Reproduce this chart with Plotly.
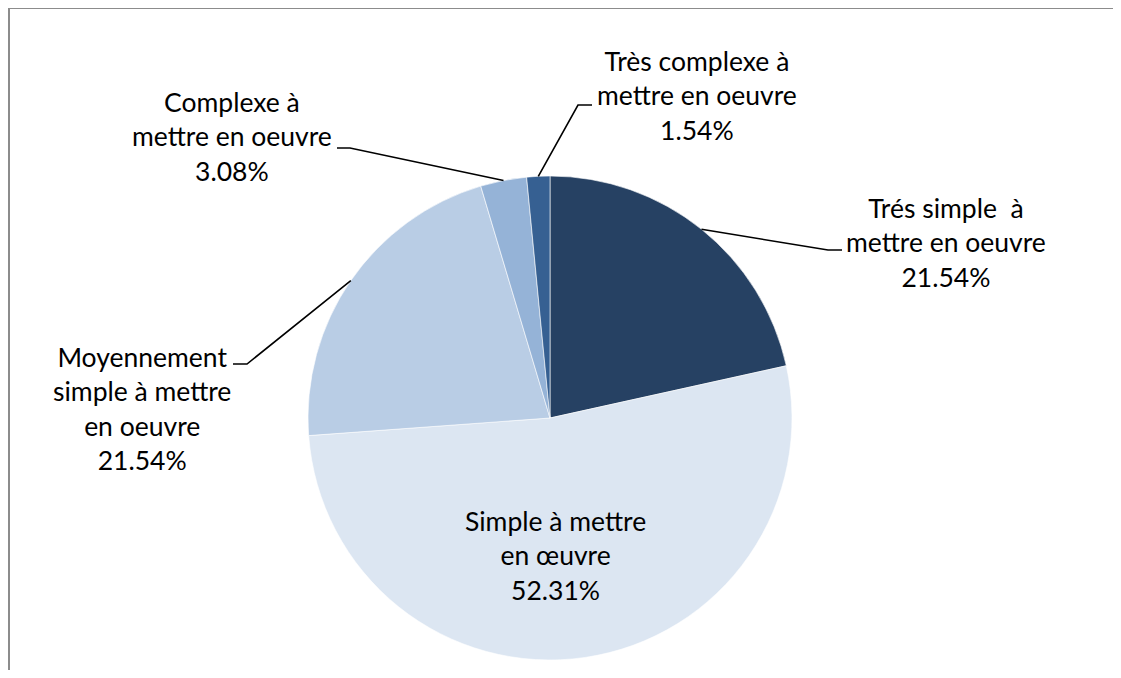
import math
import plotly.graph_objects as go

categories = [
    "Trés simple à mettre en oeuvre",
    "Simple à mettre en œuvre",
    "Moyennement simple à mettre en oeuvre",
    "Complexe à mettre en oeuvre",
    "Très complexe à mettre en oeuvre",
]
values = [21.54, 52.31, 21.54, 3.08, 1.54]
label_texts = [
    "Trés simple  à<br>mettre en oeuvre<br>21.54%",
    "Simple à mettre<br>en œuvre<br>52.31%",
    "Moyennement<br>simple à mettre<br>en oeuvre<br>21.54%",
    "Complexe à<br>mettre en oeuvre<br>3.08%",
    "Très complexe à<br>mettre en oeuvre<br>1.54%",
]
colors = ["#264163", "#DCE6F2", "#B9CDE5", "#95B3D7", "#366092"]

PAGE_W, PAGE_H = 1121, 678
OFF = 8  # default page body margin
W, H = PAGE_W - 2 * OFF, PAGE_H - 2 * OFF  # avoid scrollbars
cx, cy, R = 550, 418, 242  # page pixels

# label centre positions (page pixels) and leader elbows
label_pos = [(946, 242), (555, 555), (142, 408), (232, 136), (697, 95)]
elbows = [[(828, 250), (842, 250)], None, [(247, 364), (233, 364)],
          [(350, 148), (337, 148)], [(578, 105), (592, 105)]]

fig = go.Figure()
fx0 = cx - OFF
fy0 = cy - OFF
fig.add_trace(go.Pie(
    labels=categories, values=values, sort=False, direction="clockwise",
    rotation=0, textinfo="none", hoverinfo="label+percent",
    marker=dict(colors=colors, line=dict(color="#FFFFFF", width=0.6)),
    domain=dict(x=[(fx0 - R) / W, (fx0 + R) / W], y=[(H - fy0 - R) / H, (H - fy0 + R) / H]),
    showlegend=False,
))

fig.add_trace(go.Scatter(x=[OFF, OFF + W], y=[OFF, OFF + H], mode="markers", marker=dict(opacity=0),
                         hoverinfo="skip", showlegend=False))

total = sum(values)
cum = 0
shapes = []
for i, v in enumerate(values):
    mid = (cum + v / 2) / total
    cum += v
    ang = 2 * math.pi * mid
    sx = cx + R * math.sin(ang)
    sy = cy - R * math.cos(ang)
    if elbows[i] is not None:
        pts = [(sx, sy)] + elbows[i]
        path = "M " + " L ".join(f"{x:.1f},{y:.1f}" for x, y in pts)
        shapes.append(dict(type="path", path=path, xref="x", yref="y",
                           line=dict(color="#000000", width=1.6)))
    fig.add_annotation(x=label_pos[i][0], y=label_pos[i][1], xref="x", yref="y",
                       text=label_texts[i], showarrow=False, align="center",
                       font=dict(family="Lato, Carlito, Calibri, sans-serif", size=26.5, color="#000000"))

# chart frame: only the top and left edges fall inside the picture
frame = dict(color="#8C8C8C", width=2)
shapes.append(dict(type="line", xref="x", yref="y", x0=8, y0=8, x1=OFF + W, y1=8, line=frame, layer="below"))
shapes.append(dict(type="line", xref="x", yref="y", x0=9, y0=8, x1=9, y1=OFF + H, line=frame, layer="below"))

fig.update_layout(
    width=W, height=H, margin=dict(l=0, r=0, t=0, b=0),
    paper_bgcolor="#FFFFFF", plot_bgcolor="rgba(0,0,0,0)",
    xaxis=dict(range=[OFF, OFF + W], visible=False, fixedrange=True),
    yaxis=dict(range=[OFF + H, OFF], visible=False, fixedrange=True),
    shapes=shapes,
)

fig.write_html("out.html")
